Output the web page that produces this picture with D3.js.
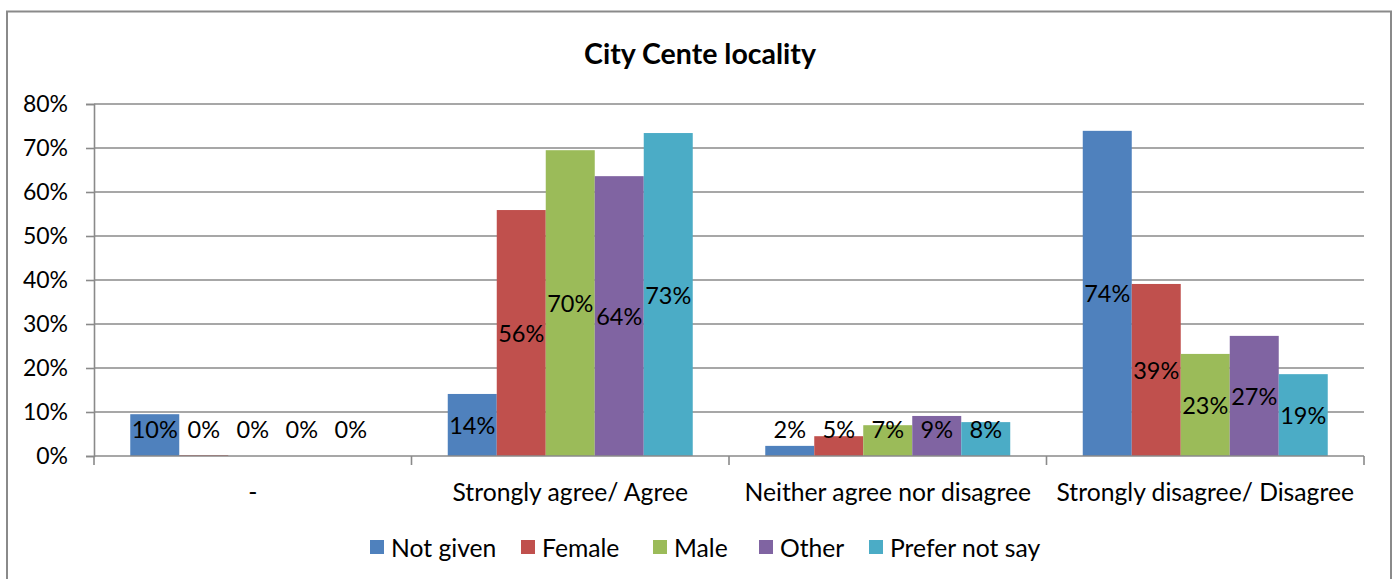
<!DOCTYPE html>
<html>
<head>
<meta charset="utf-8">
<script src="https://cdn.jsdelivr.net/npm/d3@7"></script>
<style>
  body { margin: 0; background: #fff; }
  svg text { font-family: Lato, "Open Sans", sans-serif; fill: #000; }
</style>
</head>
<body>
<div class="chart"></div>
<script>
// data
const categories = ["-", "Strongly agree/ Agree", "Neither agree nor disagree", "Strongly disagree/ Disagree"];
const seriesNames = ["Not given", "Female", "Male", "Other", "Prefer not say"];
const colors = ["#4F81BD", "#C0504D", "#9BBB59", "#8064A2", "#4BACC6"];
const notGiven = [0.095, 0.141, 0.023, 0.739];
const female = [0.002, 0.559, 0.045, 0.391];
const male = [0, 0.695, 0.070, 0.232];
const other = [0, 0.636, 0.091, 0.273];
const preferNot = [0, 0.734, 0.077, 0.186];
const yTicks = [0, 0.1, 0.2, 0.3, 0.4, 0.5, 0.6, 0.7, 0.8];

const values = [notGiven, female, male, other, preferNot];

let width = 1399, height = 579;
let plotLeft = 94, plotRight = 1364, plotTop = 104, plotBottom = 456;

let svg = d3.select(".chart").append("svg")
  .attr("width", width)
  .attr("height", height);

// outer chart border
svg.append("rect")
  .attr("x", 7).attr("y", 11.5)
  .attr("width", 1384).attr("height", 580)
  .attr("fill", "#fff")
  .attr("stroke", "#8a8a8a")
  .attr("stroke-width", 2);

svg.append("text")
  .attr("x", 700).attr("y", 53)
  .attr("text-anchor", "middle")
  .attr("dominant-baseline", "central")
  .attr("font-size", 28.5)
  .attr("font-weight", "bold")
  .text("City Cente locality");

var x0 = d3.scaleBand().domain(categories).range([plotLeft, plotRight]);
var x1 = d3.scaleBand().domain(seriesNames).range([0, x0.bandwidth()]).paddingOuter(0.74);
var y = d3.scaleLinear().domain([0, 0.8]).range([plotBottom, plotTop]);

// gridlines
svg.append("g").selectAll("line")
  .data(yTicks.slice(1))
  .join("line")
  .attr("x1", plotLeft).attr("x2", plotRight)
  .attr("y1", d => y(d)).attr("y2", d => y(d))
  .attr("stroke", "#8a8a8a")
  .attr("stroke-width", 1.6);

// y axis
let yAxis = svg.append("g")
  .attr("transform", `translate(${plotLeft},0)`)
  .call(d3.axisLeft(y).tickValues(yTicks).tickFormat(d3.format(".0%")).tickSize(8).tickPadding(18));
yAxis.select(".domain").attr("stroke", "#8a8a8a").attr("stroke-width", 1.6);
yAxis.selectAll(".tick line").attr("stroke", "#8a8a8a").attr("stroke-width", 1.6);
yAxis.selectAll(".tick text").attr("font-size", 23).attr("font-family", "Lato").attr("fill", "#000");

// bars
let groups = svg.append("g").selectAll("g")
  .data(seriesNames)
  .join("g")
  .attr("fill", (d, i) => colors[i]);

groups.selectAll("rect")
  .data((s, i) => values[i].map((v, j) => ({s: s, v: v, c: categories[j]})))
  .join("rect")
  .attr("x", d => x0(d.c) + x1(d.s))
  .attr("y", d => y(d.v))
  .attr("width", x1.bandwidth())
  .attr("height", d => y(0) - y(d.v));

// data labels, centred but kept off the axis like Excel does
groups.selectAll("text")
  .data((s, i) => values[i].map((v, j) => ({s: s, v: v, c: categories[j]})))
  .join("text")
  .attr("x", d => x0(d.c) + x1(d.s) + x1.bandwidth() / 2)
  .attr("y", d => Math.min(y(d.v / 2), y(0) - 27))
  .attr("text-anchor", "middle")
  .attr("dominant-baseline", "central")
  .attr("font-size", 23.5)
  .text(d => d3.format(".0%")(d.v));

// x axis line and category ticks
svg.append("line")
  .attr("x1", plotLeft).attr("x2", plotRight)
  .attr("y1", plotBottom).attr("y2", plotBottom)
  .attr("stroke", "#8a8a8a").attr("stroke-width", 1.6);
svg.append("g").selectAll("line")
  .data(d3.range(categories.length + 1))
  .join("line")
  .attr("x1", i => plotLeft + i * x0.bandwidth()).attr("x2", i => plotLeft + i * x0.bandwidth())
  .attr("y1", plotBottom).attr("y2", plotBottom + 9)
  .attr("stroke", "#8a8a8a").attr("stroke-width", 1.6);

svg.append("g").selectAll("text")
  .data(categories)
  .join("text")
  .attr("x", d => x0(d) + x0.bandwidth() / 2)
  .attr("y", 491)
  .attr("text-anchor", "middle")
  .attr("dominant-baseline", "central")
  .attr("font-size", 24.7)
  .text(d => d);

// legend
let legendX = [370, 521, 653, 759, 869];
let legend = svg.append("g").selectAll("g")
  .data(seriesNames)
  .join("g")
  .attr("transform", (d, i) => `translate(${legendX[i]},547)`);
legend.append("rect")
  .attr("x", 0).attr("y", -7)
  .attr("width", 14).attr("height", 14)
  .attr("fill", (d, i) => colors[i]);
legend.append("text")
  .attr("x", 21).attr("y", 0)
  .attr("dominant-baseline", "central")
  .attr("font-size", 24.7)
  .text(d => d);
</script>
</body>
</html>
